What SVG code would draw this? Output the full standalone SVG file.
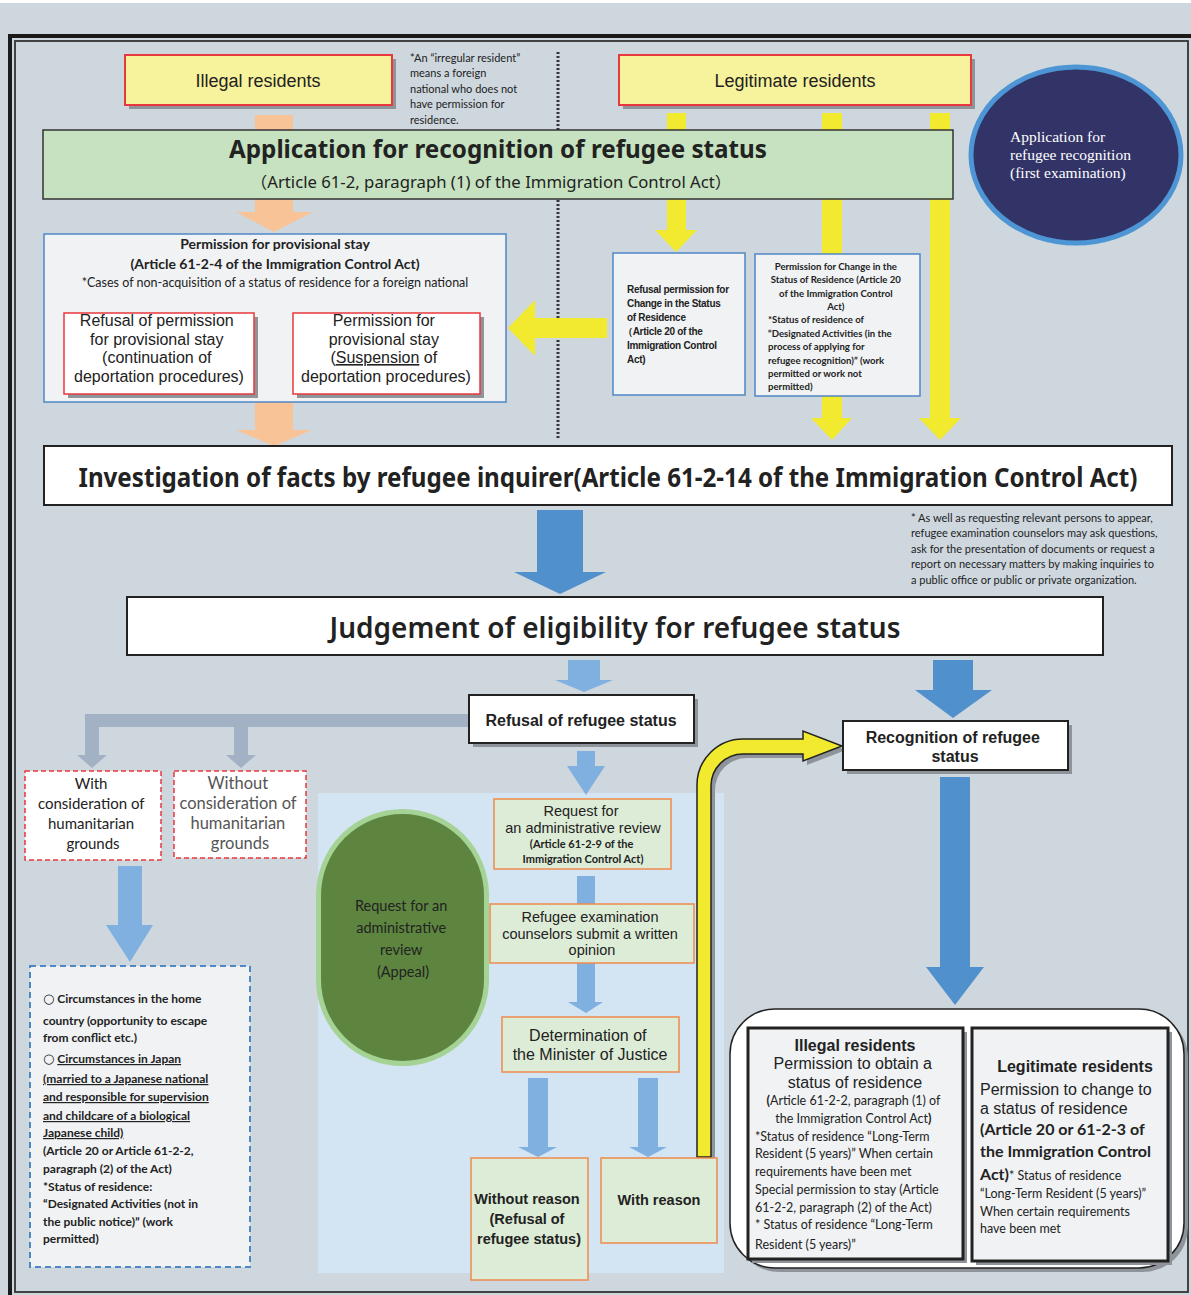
<svg xmlns="http://www.w3.org/2000/svg" width="1191" height="1295" viewBox="0 0 1191 1295">
<style>
.sh{fill:#8E949A}
.ybox{fill:#F7F29C;stroke:#E8383D;stroke-width:2}
.wred{fill:#fff;stroke:#E8383D;stroke-width:1.5}
.panel{fill:#F0F2F4;stroke:#4F86C6;stroke-width:1.5}
.wblk{fill:#fff;stroke:#222;stroke-width:2}
.lg{fill:#DDECD6;stroke:#F08A4B;stroke-width:1.5}
.peach{fill:#F9C398}
.yel{fill:#F2EA2E}
.bd{fill:#5090CD}
.bl{fill:#80B0E0}
.gr{fill:#A2B1C4}
text{font-family:"Liberation Sans",Arial,sans-serif;fill:#222}
.lato{font-family:Lato,"Liberation Sans","DejaVu Sans",sans-serif}
.noto{font-family:"Noto Sans","Noto Sans CJK JP",sans-serif}
text.serif{font-family:"Liberation Serif","Times New Roman",serif;fill:#fff}
.dj{font-family:"DejaVu Sans",sans-serif;font-weight:normal}
.c{text-anchor:middle}
.b{font-weight:bold}
</style>
<rect width="1191" height="1295" fill="#CED7DE"/>
<rect width="1191" height="3" fill="#fff"/>
<path d="M10,1295 V36 H1191" fill="none" stroke="#1a1a1a" stroke-width="4"/>
<rect x="15" y="41" width="1173" height="1251" fill="none" stroke="#333" stroke-width="1.8"/>
<line x1="558" y1="52" x2="558" y2="438" stroke="#333" stroke-width="3" stroke-dasharray="2 2"/>
<rect id="review-area" x="318" y="793" width="406" height="480" fill="#D3E4F2"/>

<g id="connectors">
  <polygon class="peach" points="255,115 293,115 293,212 313,212 274,232 236,212 255,212"/>
  <polygon class="peach" points="255,402 293,402 293,430 312,430 274,446 236,430 255,430"/>
  <polygon class="yel" points="667,113 686,113 686,230 697,230 676,252 655,230 667,230"/>
  <polygon class="yel" points="822,113 842,113 842,418 852,418 832,440 811,418 822,418"/>
  <polygon class="yel" points="930,113 950,113 950,418 961,418 940,440 919,418 930,418"/>
  <polygon class="yel" points="607,318 607,338 535,338 535,356 508,328 535,300 535,318"/>
  <polygon class="bd" points="537,510 583,510 583,572 606,572 560,594 514,572 537,572"/>
  <polygon class="bl" points="568,660 600,660 600,680 613,680 584,692 555,680 568,680"/>
  <polygon class="bd" points="933,660 973,660 973,690 992,690 953,718 915,690 933,690"/>
  <polygon class="gr" points="85,714 469,714 469,727 99,727 99,755 107,755 92,768 77,755 85,755"/>
  <polygon class="gr" points="234,727 248,727 248,755 256,755 241,768 226,755 234,755"/>
  <polygon class="bl" points="118,866 142,866 142,925 153,925 130,962 106,925 118,925"/>
  <polygon class="bl" points="577,751 595,751 595,766 605,766 586,795 567,766 577,766"/>
  <rect class="bl" x="577" y="876" width="18" height="28"/>
  <polygon class="bl" points="577,963 595,963 595,1002 603,1002 586,1013 568,1002 577,1002"/>
  <polygon class="bl" points="528,1078 548,1078 548,1147 557,1147 538,1157 518,1147 528,1147"/>
  <polygon class="bl" points="638,1078 658,1078 658,1147 667,1147 648,1157 629,1147 638,1147"/>
  <polygon class="bd" points="940,777 970,777 970,967 984,967 955,1005 926,967 940,967"/>
  <path d="M701,1161 V789 A46,46 0 0 1 747,743 H807 V735 L846,750 L807,765 V758 H747 A32,32 0 0 0 715,790 V1161 Z" fill="#8E949A"/>
  <path d="M697,1157 V785 A46,46 0 0 1 743,739 H803 V731 L842,746 L803,761 V754 H743 A32,32 0 0 0 711,786 V1157 Z" fill="#F2EA2E" stroke="#222" stroke-width="1.5"/>
</g>

<g id="illegal-residents">
  <rect class="sh" x="129" y="59" width="267" height="50"/>
  <rect class="ybox" x="125" y="55" width="267" height="50"/>
  <text x="258" y="87" class="c" font-size="18">Illegal residents</text>
</g>
<g id="irregular-note">
  <text class="lato" font-size="11">
    <tspan x="410" y="62">*An “irregular resident”</tspan>
    <tspan x="410" y="77">means a foreign</tspan>
    <tspan x="410" y="93">national who does not</tspan>
    <tspan x="410" y="108">have permission for</tspan>
    <tspan x="410" y="124">residence.</tspan>
  </text>
</g>
<g id="legitimate-residents">
  <rect class="sh" x="623" y="59" width="352" height="50"/>
  <rect class="ybox" x="619" y="55" width="352" height="50"/>
  <text x="795" y="87" class="c" font-size="18">Legitimate residents</text>
</g>
<g id="first-examination">
  <ellipse cx="1076" cy="155" rx="105" ry="88" fill="#323468" stroke="#4D95D4" stroke-width="5"/>
  <text class="serif" font-size="15.5">
    <tspan x="1010" y="142" fill="#fff">Application for</tspan>
    <tspan x="1010" y="160" fill="#fff">refugee recognition</tspan>
    <tspan x="1010" y="178" fill="#fff">(first examination)</tspan>
  </text>
</g>
<g id="application">
  <rect x="43" y="130" width="910" height="69" fill="#C6E2C0" stroke="#333" stroke-width="1.5"/>
  <text x="498" y="158" class="c b noto" font-size="25" textLength="538" lengthAdjust="spacingAndGlyphs">Application for recognition of refugee status</text>
  <text x="491" y="188" class="c noto" font-size="16" textLength="481" lengthAdjust="spacingAndGlyphs">（Article 61-2, paragraph (1) of the Immigration Control Act）</text>
</g>
<g id="provisional-stay">
  <rect class="panel" x="44" y="234" width="462" height="168"/>
  <text x="275" y="249" class="c b lato" font-size="14">Permission for provisional stay</text>
  <text x="275" y="269" class="c b lato" font-size="14">(Article 61-2-4 of the Immigration Control Act)</text>
  <text x="275" y="287" class="c lato" font-size="12.5">*Cases of non-acquisition of a status of residence for a foreign national</text>
</g>
<g id="refusal-provisional">
  <rect class="sh" x="68" y="317" width="190" height="81"/>
  <rect class="wred" x="64" y="313" width="190" height="81"/>
  <text class="c" font-size="16">
    <tspan x="159" y="326">Refusal of permission</tspan>
    <tspan x="159" y="345">for provisional stay</tspan>
    <tspan x="159" y="363">(continuation of</tspan>
    <tspan x="159" y="382">deportation procedures)</tspan>
  </text>
</g>
<g id="permission-provisional">
  <rect class="sh" x="297" y="317" width="187" height="81"/>
  <rect class="wred" x="293" y="313" width="187" height="81"/>
  <text class="c" font-size="16">
    <tspan x="386" y="326">Permission for</tspan>
    <tspan x="386" y="345">provisional stay</tspan>
    <tspan x="386" y="363">(<tspan text-decoration="underline">Suspension</tspan> of</tspan>
    <tspan x="386" y="382">deportation procedures)</tspan>
  </text>
</g>
<g id="refusal-change">
  <rect class="panel" x="613" y="253" width="132" height="142"/>
  <text class="b" font-size="10" letter-spacing="-0.3">
    <tspan x="627" y="293">Refusal permission for</tspan>
    <tspan x="627" y="307">Change in the Status</tspan>
    <tspan x="627" y="321">of Residence</tspan>
    <tspan x="623" y="335">（Article 20 of the</tspan>
    <tspan x="627" y="349">Immigration Control</tspan>
    <tspan x="627" y="363">Act)</tspan>
  </text>
</g>
<g id="permission-change">
  <rect class="panel" x="755" y="254" width="165" height="142"/>
  <text class="lato b" font-size="9.6">
    <tspan x="837" y="269.5" class="c">Permission for Change in the</tspan>
    <tspan x="837" y="283" class="c">Status of Residence (Article 20</tspan>
    <tspan x="837" y="296.5" class="c">of the Immigration Control</tspan>
    <tspan x="837" y="310" class="c">Act)</tspan>
    <tspan x="768" y="323">*Status of residence of</tspan>
    <tspan x="768" y="336.5">“Designated Activities (in the</tspan>
    <tspan x="768" y="350">process of applying for</tspan>
    <tspan x="768" y="363.5">refugee recognition)” (work</tspan>
    <tspan x="768" y="377">permitted or work not</tspan>
    <tspan x="768" y="390">permitted)</tspan>
  </text>
</g>
<g id="investigation">
  <rect class="wblk" x="44" y="446" width="1128" height="59"/>
  <text x="608" y="487" class="c b noto" font-size="27" textLength="1059" lengthAdjust="spacingAndGlyphs">Investigation of facts by refugee inquirer(Article 61-2-14 of the Immigration Control Act)</text>
</g>
<g id="counselor-note">
  <text class="lato" font-size="11">
    <tspan x="911" y="522">* As well as requesting relevant persons to appear,</tspan>
    <tspan x="911" y="537">refugee examination counselors may ask questions,</tspan>
    <tspan x="911" y="553">ask for the presentation of documents or request a</tspan>
    <tspan x="911" y="568">report on necessary matters by making inquiries to</tspan>
    <tspan x="911" y="584">a public office or public or private organization.</tspan>
  </text>
</g>
<g id="judgement">
  <rect class="wblk" x="127" y="597" width="976" height="58"/>
  <text x="615" y="638" class="c noto" font-weight="600" font-size="29" textLength="571" lengthAdjust="spacingAndGlyphs">Judgement of eligibility for refugee status</text>
</g>
<g id="refusal-status">
  <rect class="sh" x="473" y="699" width="225" height="48"/>
  <rect class="wblk" x="469" y="695" width="225" height="48"/>
  <text x="581" y="726" class="c b" font-size="16">Refusal of refugee status</text>
</g>
<g id="recognition">
  <rect class="sh" x="847" y="725" width="225" height="49"/>
  <rect class="wblk" x="843" y="721" width="225" height="49"/>
  <text class="c b" font-size="16">
    <tspan x="955" y="743">Recognition of refugee</tspan>
    <tspan x="955" y="762">status</tspan>
  </text>
</g>
<g id="with-humanitarian">
  <rect x="25" y="771" width="136" height="89" fill="#fff" stroke="#E8383D" stroke-width="1.5" stroke-dasharray="5 3"/>
  <text class="c lato" font-size="15">
    <tspan x="93" y="789">With</tspan>
    <tspan x="93" y="809">consideration of</tspan>
    <tspan x="93" y="829">humanitarian</tspan>
    <tspan x="93" y="849">grounds</tspan>
  </text>
</g>
<g id="without-humanitarian">
  <rect x="174" y="771" width="132" height="87" fill="#fff" stroke="#E8383D" stroke-width="1.5" stroke-dasharray="5 3"/>
  <text class="c lato" font-size="16.5">
    <tspan x="240" y="789" fill="#555">Without</tspan>
    <tspan x="240" y="809" fill="#555">consideration of</tspan>
    <tspan x="240" y="829" fill="#555">humanitarian</tspan>
    <tspan x="240" y="849" fill="#555">grounds</tspan>
  </text>
</g>
<g id="circumstances">
  <rect x="30" y="966" width="220" height="301" fill="#F0F2F4" stroke="#4F86C6" stroke-width="2" stroke-dasharray="6 4"/>
  <text class="lato b" font-size="12">
    <tspan x="43" y="1003"><tspan class="dj" font-size="13">○</tspan> Circumstances in the home</tspan>
    <tspan x="43" y="1025">country (opportunity to escape</tspan>
    <tspan x="43" y="1042">from conflict etc.)</tspan>
    <tspan x="43" y="1063"><tspan class="dj" font-size="13">○</tspan> <tspan text-decoration="underline">Circumstances in Japan</tspan></tspan>
    <tspan x="43" y="1083" text-decoration="underline">(married to a Japanese national</tspan>
    <tspan x="43" y="1101" text-decoration="underline">and responsible for supervision</tspan>
    <tspan x="43" y="1120" text-decoration="underline">and childcare of a biological</tspan>
    <tspan x="43" y="1137" text-decoration="underline">Japanese child)</tspan>
    <tspan x="43" y="1155">(Article 20 or Article 61-2-2,</tspan>
    <tspan x="43" y="1173">paragraph (2) of the Act)</tspan>
    <tspan x="43" y="1191">*Status of residence:</tspan>
    <tspan x="43" y="1208">“Designated Activities (not in</tspan>
    <tspan x="43" y="1226">the public notice)” (work</tspan>
    <tspan x="43" y="1243">permitted)</tspan>
  </text>
</g>
<g id="appeal">
  <path d="M318.5,895.5 A84,84 0 0 1 486.5,895.5 V979.5 A84,84 0 0 1 318.5,979.5 Z" fill="#5E853F" stroke="#A4D395" stroke-width="5"/>
  <text class="c lato" font-size="14.5">
    <tspan x="403" y="911">Request for an</tspan>
    <tspan x="403" y="933">administrative</tspan>
    <tspan x="403" y="955">review</tspan>
    <tspan x="403" y="977">(Appeal)</tspan>
  </text>
</g>
<g id="request-review">
  <rect class="lg" x="494" y="799" width="177" height="70"/>
  <text class="c" font-size="14.5">
    <tspan x="583" y="816">Request  for</tspan>
    <tspan x="583" y="833">an administrative review</tspan>
  </text>
  <text class="c lato b" font-size="11">
    <tspan x="583" y="848">(Article 61-2-9 of the</tspan>
    <tspan x="583" y="863">Immigration Control Act)</tspan>
  </text>
</g>
<g id="counselors-opinion">
  <rect class="lg" x="490" y="904" width="204" height="59"/>
  <text class="c" font-size="14.5">
    <tspan x="592" y="922">Refugee examination</tspan>
    <tspan x="592" y="939">counselors submit a written</tspan>
    <tspan x="592" y="955">opinion</tspan>
  </text>
</g>
<g id="minister-determination">
  <rect class="lg" x="502" y="1017" width="177" height="55"/>
  <text class="c" font-size="16">
    <tspan x="590" y="1041">Determination of</tspan>
    <tspan x="590" y="1060">the Minister of Justice</tspan>
  </text>
</g>
<g id="without-reason">
  <rect class="lg" x="471" y="1158" width="117" height="122"/>
  <text class="c b" font-size="14.5">
    <tspan x="529" y="1204">Without reason</tspan>
    <tspan x="529" y="1224">(Refusal of</tspan>
    <tspan x="529" y="1244">refugee status)</tspan>
  </text>
</g>
<g id="with-reason">
  <rect class="lg" x="601" y="1158" width="116" height="85"/>
  <text x="659" y="1205" class="c b" font-size="14.5">With reason</text>
</g>
<g id="outcomes">
  <rect x="734" y="1013" width="454" height="259" rx="45" fill="#8E949A"/>
  <rect x="730" y="1009" width="454" height="259" rx="45" fill="#fff" stroke="#222" stroke-width="1.5"/>
</g>
<g id="outcome-illegal">
  <rect class="sh" x="752" y="1032" width="215" height="231"/>
  <rect x="748" y="1028" width="215" height="231" fill="#F0F2F4" stroke="#222" stroke-width="3"/>
  <text class="c b" font-size="16"><tspan x="855" y="1051">Illegal residents</tspan></text>
  <text class="c" font-size="16">
    <tspan x="855" y="1069">Permission to obtain a</tspan>
    <tspan x="855" y="1088">status of residence</tspan>
  </text>
  <text class="lato" font-size="12.5">
    <tspan x="855" y="1105" class="c"><tspan font-weight="bold">(</tspan>Article 61-2-2, paragraph (1) of</tspan>
    <tspan x="855" y="1123" class="c">the Immigration Control Act<tspan font-weight="bold">)</tspan></tspan>
    <tspan x="755" y="1141">*Status of residence “Long-Term</tspan>
    <tspan x="755" y="1158">Resident (5 years)” When certain</tspan>
    <tspan x="755" y="1176">requirements have been met</tspan>
    <tspan x="755" y="1194">Special permission to stay (Article</tspan>
    <tspan x="755" y="1212">61-2-2, paragraph (2) of the Act)</tspan>
    <tspan x="755" y="1229">* Status of residence “Long-Term</tspan>
    <tspan x="755" y="1249">Resident (5 years)”</tspan>
  </text>
</g>
<g id="outcome-legitimate">
  <rect class="sh" x="976" y="1032" width="196" height="233"/>
  <rect x="972" y="1028" width="196" height="233" fill="#F0F2F4" stroke="#222" stroke-width="3"/>
  <text x="1075" y="1072" class="c b" font-size="16">Legitimate residents</text>
  <text font-size="16">
    <tspan x="980" y="1095">Permission to change to</tspan>
    <tspan x="980" y="1114">a status of residence</tspan>
  </text>
  <text class="lato" font-size="16" font-weight="bold">
    <tspan x="980" y="1135">(Article 20 or 61-2-3 of</tspan>
    <tspan x="980" y="1157">the Immigration Control</tspan>
    <tspan x="980" y="1180">Act)<tspan font-weight="normal" font-size="12.5">* Status of residence</tspan></tspan>
  </text>
  <text class="lato" font-size="12.5">
    <tspan x="980" y="1198">“Long-Term Resident (5 years)”</tspan>
    <tspan x="980" y="1216">When certain requirements</tspan>
    <tspan x="980" y="1233">have been met</tspan>
  </text>
</g>
</svg>
